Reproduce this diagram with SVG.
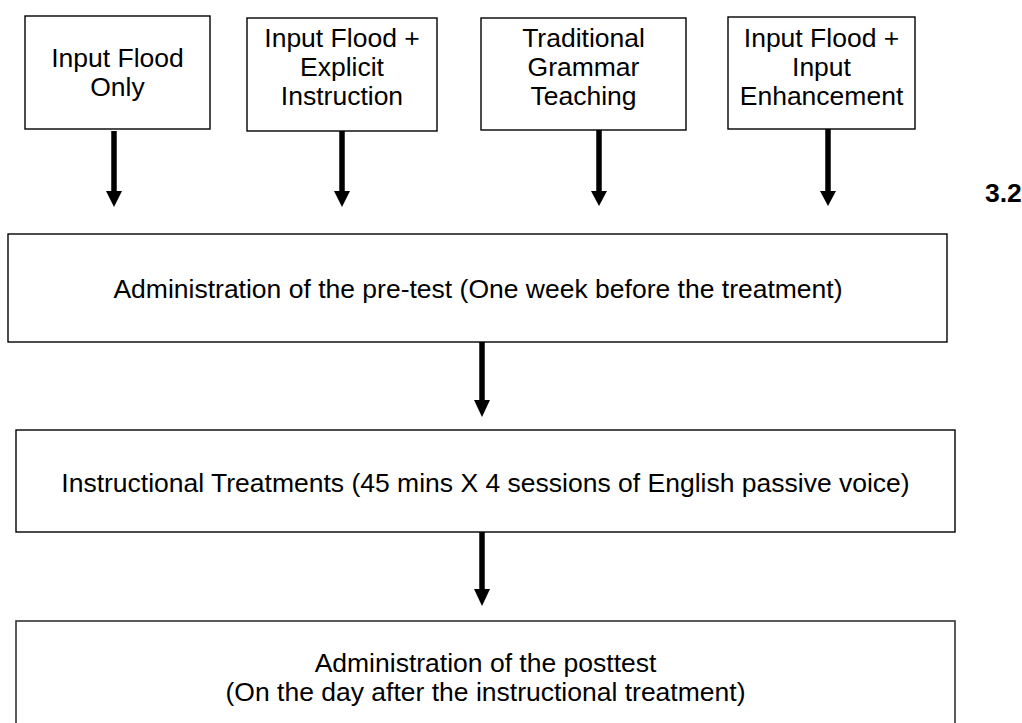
<svg xmlns="http://www.w3.org/2000/svg" width="1022" height="723" viewBox="0 0 1022 723">
<style>
.box{fill:#fff;stroke:#000;stroke-width:1.4}
.t{font-family:"Liberation Sans",Arial,sans-serif;font-size:26.5px;fill:#000;text-anchor:middle}
.lbl{font-family:"Liberation Sans",Arial,sans-serif;font-size:26.5px;font-weight:bold;fill:#000}
.shaft{stroke:#000;stroke-width:5.5;fill:none}
.head{fill:#000}
</style>
<rect width="1022" height="723" fill="#fff"/>
<g id="n1"><rect class="box" x="25" y="16" width="185" height="113"/>
<text class="t" x="117.5" y="67">Input Flood</text><text class="t" x="117.5" y="96">Only</text></g>
<g id="n2"><rect class="box" x="247" y="18" width="190" height="113"/>
<text class="t" x="342" y="47">Input Flood +</text><text class="t" x="342" y="76">Explicit</text><text class="t" x="342" y="105">Instruction</text></g>
<g id="n3"><rect class="box" x="481" y="18" width="205" height="112"/>
<text class="t" x="583.5" y="47">Traditional</text><text class="t" x="583.5" y="76">Grammar</text><text class="t" x="583.5" y="105">Teaching</text></g>
<g id="n4"><rect class="box" x="728" y="17" width="187" height="112"/>
<text class="t" x="821.5" y="47">Input Flood +</text><text class="t" x="821.5" y="76">Input</text><text class="t" x="821.5" y="105">Enhancement</text></g>
<g id="label32"><text class="lbl" x="985" y="202">3.2</text></g>
<g id="nA"><rect class="box" x="8" y="234" width="939" height="108"/>
<text class="t" x="478" y="298">Administration of the pre-test (One week before the treatment)</text></g>
<g id="nB"><rect class="box" x="16" y="430" width="939" height="102"/>
<text class="t" x="485.5" y="492">Instructional Treatments (45 mins X 4 sessions of English passive voice)</text></g>
<g id="nC"><rect class="box" x="16" y="621" width="939" height="115" style="stroke:#333;stroke-width:1.6"/>
<text class="t" x="485.5" y="672">Administration of the posttest</text><text class="t" x="485.5" y="701">(On the day after the instructional treatment)</text></g>
<g id="connectors">
<line class="shaft" x1="114" y1="131" x2="114" y2="193"/><polygon class="head" points="106,191 122,191 114,207"/>
<line class="shaft" x1="342" y1="131" x2="342" y2="193"/><polygon class="head" points="334,191 350,191 342,207"/>
<line class="shaft" x1="599" y1="130" x2="599" y2="193"/><polygon class="head" points="591,191 607,191 599,206"/>
<line class="shaft" x1="828" y1="129" x2="828" y2="193"/><polygon class="head" points="820,191 836,191 828,206"/>
<line class="shaft" x1="482" y1="342" x2="482" y2="402"/><polygon class="head" points="474,400 490,400 482,417"/>
<line class="shaft" x1="482" y1="532" x2="482" y2="591"/><polygon class="head" points="474,589 490,589 482,606"/>
</g>
</svg>
